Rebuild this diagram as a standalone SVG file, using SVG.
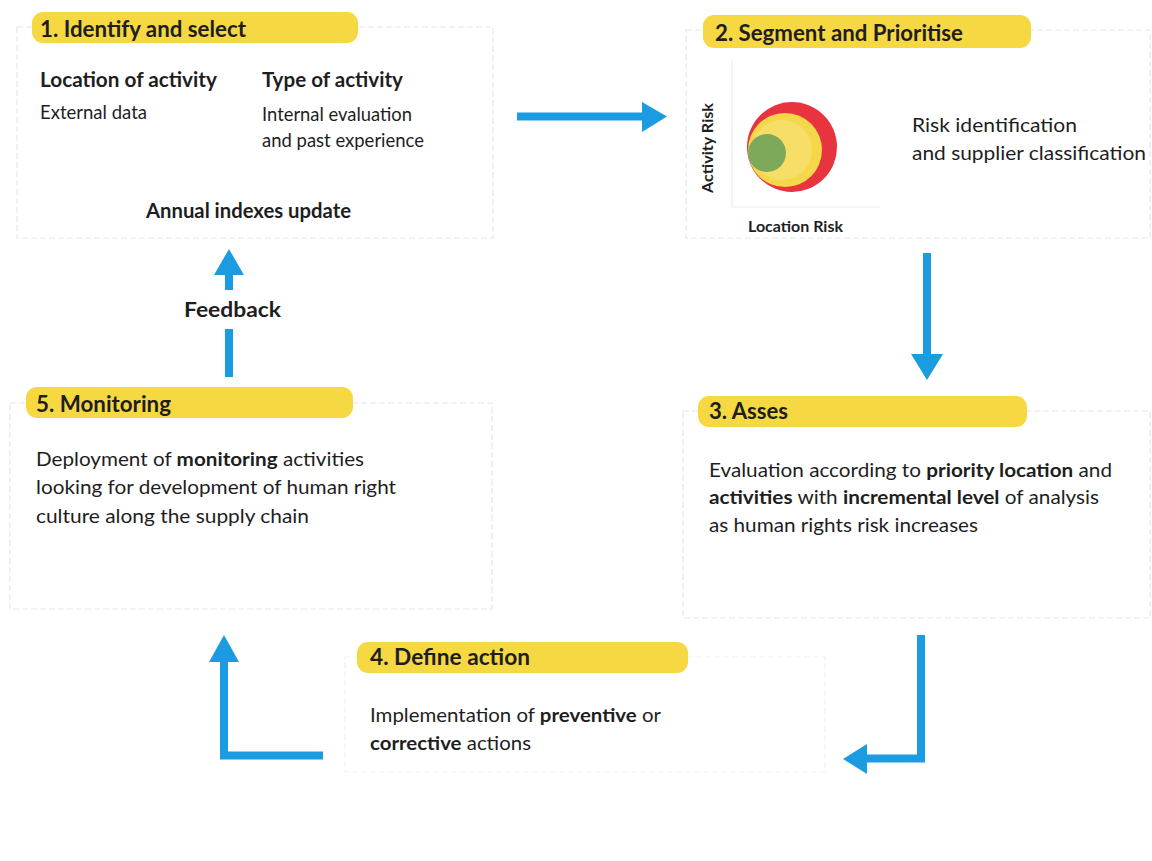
<svg xmlns="http://www.w3.org/2000/svg" width="1152" height="861" viewBox="0 0 1152 861">
<style>
.box{fill:none;stroke:#e6e6e6;stroke-width:1.2;stroke-dasharray:6 3}
.pill{fill:#F6D843}
.t{font-family:Lato,"Open Sans","DejaVu Sans",sans-serif;fill:#1e1e1e}
.title{font-size:22px;font-weight:700}
.sub{font-size:20px;font-weight:700}
.body{font-size:19px;font-weight:400}
.b{font-weight:700}
.axis{stroke:#ececec;stroke-width:1.2;fill:none}
.arr{fill:#1B9BE0}
.shaft{stroke:#1B9BE0;stroke-width:8;fill:none}
</style>
<rect width="1152" height="861" fill="#ffffff"/>

<g id="node1">
<rect class="box" x="17" y="27" width="476" height="211"/>
<rect class="pill" x="32" y="12" width="326" height="31" rx="11"/>
<text class="t title" x="40" y="37" textLength="206" lengthAdjust="spacingAndGlyphs">1. Identify and select</text>
<text class="t sub" x="40" y="87" textLength="177" lengthAdjust="spacingAndGlyphs">Location of activity</text>
<text class="t sub" x="262" y="87" textLength="141" lengthAdjust="spacingAndGlyphs">Type of activity</text>
<text class="t body" x="40" y="119" font-size="17" textLength="107" lengthAdjust="spacingAndGlyphs">External data</text>
<text class="t body" x="262" y="121" font-size="17" textLength="150" lengthAdjust="spacingAndGlyphs">Internal evaluation</text>
<text class="t body" x="262" y="147" font-size="17" textLength="162" lengthAdjust="spacingAndGlyphs">and past experience</text>
<text class="t sub" x="146" y="218" font-size="19" textLength="205" lengthAdjust="spacingAndGlyphs">Annual indexes update</text>
</g>

<g id="node2">
<rect class="box" x="686" y="30" width="464" height="208"/>
<rect class="pill" x="703" y="15" width="328" height="33" rx="11"/>
<text class="t title" x="715" y="41" textLength="248" lengthAdjust="spacingAndGlyphs">2. Segment and Prioritise</text>
<path class="axis" d="M732 60 V207 H880"/>
<circle cx="792" cy="147" r="45" fill="#E8343E"/>
<circle cx="785" cy="150" r="37" fill="#F5D74A"/>
<circle cx="782" cy="150" r="30" fill="#F8E27A" opacity="0.6"/>
<circle cx="767" cy="153" r="19" fill="#7DAA5A"/>
<text class="t" font-size="15" font-weight="700" transform="translate(713,148) rotate(-90)" text-anchor="middle" textLength="90" lengthAdjust="spacingAndGlyphs">Activity Risk</text>
<text class="t" x="748" y="232" font-size="15" font-weight="700" textLength="95" lengthAdjust="spacingAndGlyphs">Location Risk</text>
<text class="t body" x="912" y="132" font-size="20" textLength="165" lengthAdjust="spacingAndGlyphs">Risk identification</text>
<text class="t body" x="912" y="160" font-size="20" textLength="234" lengthAdjust="spacingAndGlyphs">and supplier classification</text>
</g>

<g id="node3">
<rect class="box" x="683" y="411" width="467" height="207"/>
<rect class="pill" x="698" y="396" width="329" height="31" rx="11"/>
<text class="t title" x="709" y="419" textLength="79" lengthAdjust="spacingAndGlyphs">3. Asses</text>
<text class="t body" x="709" y="477" textLength="403" lengthAdjust="spacingAndGlyphs">Evaluation according to <tspan class="b">priority location</tspan> and</text>
<text class="t body" x="709" y="504" textLength="390" lengthAdjust="spacingAndGlyphs"><tspan class="b">activities</tspan> with <tspan class="b">incremental level</tspan> of analysis</text>
<text class="t body" x="709" y="532" textLength="269" lengthAdjust="spacingAndGlyphs">as human rights risk increases</text>
</g>

<g id="node4">
<rect class="box" x="345" y="657" width="480" height="115" stroke-opacity="0.5"/>
<rect class="pill" x="357" y="642" width="331" height="31" rx="11"/>
<text class="t title" x="370" y="665" textLength="160" lengthAdjust="spacingAndGlyphs">4. Define action</text>
<text class="t body" x="370" y="722" textLength="291" lengthAdjust="spacingAndGlyphs">Implementation of <tspan class="b">preventive</tspan> or</text>
<text class="t body" x="370" y="750" textLength="161" lengthAdjust="spacingAndGlyphs"><tspan class="b">corrective</tspan> actions</text>
</g>

<g id="node5">
<rect class="box" x="10" y="403" width="482" height="206"/>
<rect class="pill" x="26" y="387" width="327" height="31" rx="11"/>
<text class="t title" x="36" y="412" textLength="135" lengthAdjust="spacingAndGlyphs">5. Monitoring</text>
<text class="t body" x="36" y="466" font-size="20" textLength="328" lengthAdjust="spacingAndGlyphs">Deployment of <tspan class="b">monitoring</tspan> activities</text>
<text class="t body" x="36" y="494" font-size="20" textLength="360" lengthAdjust="spacingAndGlyphs">looking for development of human right</text>
<text class="t body" x="36" y="523" font-size="20" textLength="273" lengthAdjust="spacingAndGlyphs">culture along the supply chain</text>
</g>

<g id="connectors">
<!-- 1 -> 2 -->
<path class="shaft" d="M517 116.5 H644"/>
<polygon class="arr" points="642,102 667,116.5 642,132"/>
<!-- 2 -> 3 -->
<path class="shaft" d="M927 253 V356"/>
<polygon class="arr" points="911,354 943,354 927,380"/>
<!-- 3 -> 4 -->
<path class="shaft" d="M921 635 V758.5 H865"/>
<polygon class="arr" points="867,744 867,774 843,759"/>
<!-- 4 -> 5 -->
<path class="shaft" d="M323 755.5 H224 V660"/>
<polygon class="arr" points="209,662 239,662 224,635"/>
<!-- 5 -> 1 feedback -->
<path class="shaft" d="M229 377 V329"/>
<path class="shaft" d="M229 290 V273"/>
<polygon class="arr" points="214,275 244,275 229,249"/>
<text class="t sub" x="184" y="317" textLength="97" lengthAdjust="spacingAndGlyphs">Feedback</text>
</g>
</svg>
